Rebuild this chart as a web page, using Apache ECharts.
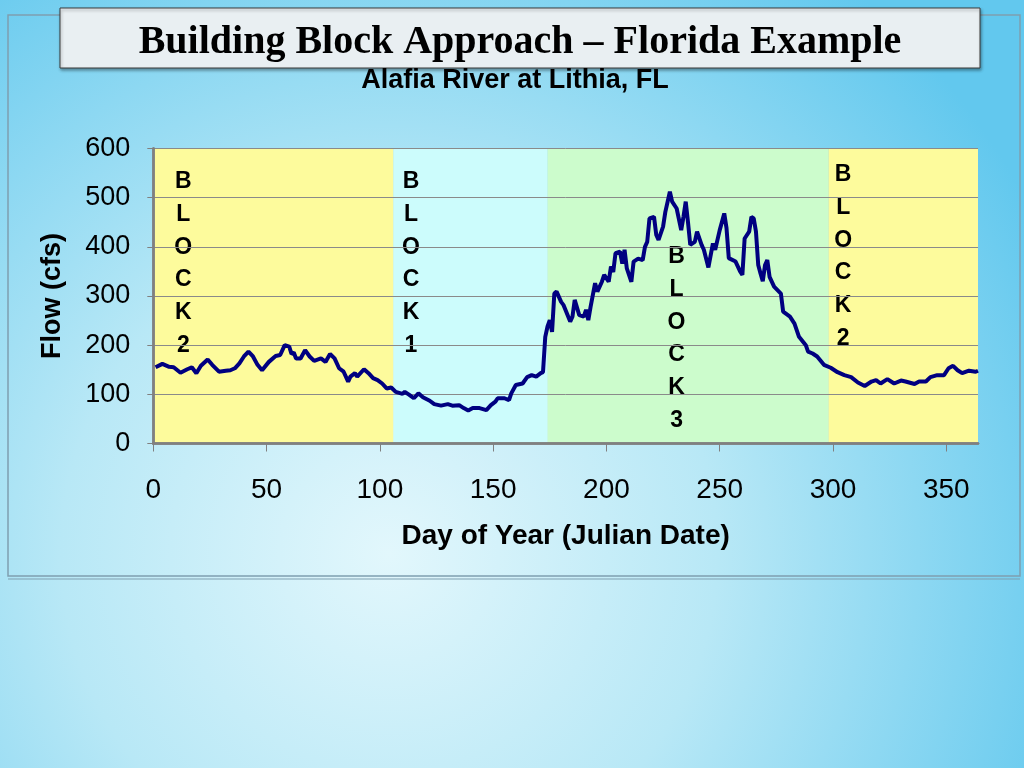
<!DOCTYPE html>
<html>
<head>
<meta charset="utf-8">
<script src="https://cdn.jsdelivr.net/npm/echarts@6/dist/echarts.min.js"></script>
<style>
html,body{margin:0;padding:0;width:1024px;height:768px;overflow:hidden;}
#chart{width:1024px;height:768px;}
</style>
</head>
<body>
<div id="chart"></div>
<script>
// ---- data ----
const dayOfYear = [1,4,7,9,12,15,17,19,21,24,26,29,32,34,36,38,40,42,44,46,48,51,54,56,58,60,61,62,63,65,67,69,71,74,76,78,80,82,84,86,87,89,90,93,95,97,99,101,103,105,107,110,111,113,115,117,119,122,124,127,130,132,135,137,139,141,144,147,149,151,152,155,157,158,160,163,165,167,169,171,172,173,174,175,176,177,178,180,181,184,185,186,188,190,191,192,193,195,196,198,199,201,202,203,204,206,207,208,209,211,212,214,216,217,218,219,221,222,223,225,226,228,229,231,233,234,235,236,237,239,240,242,243,245,247,248,250,252,253,254,257,259,260,261,263,264,265,266,267,268,269,270,271,272,274,277,278,281,283,285,288,289,291,293,296,299,302,305,308,311,314,317,319,321,324,327,330,332,336,338,341,343,346,349,351,353,355,357,360,363,364];
const flowCfs = [155,162,156,155,144,151,155,143,158,171,160,146,148,149,153,163,177,187,177,160,149,166,178,180,200,197,182,185,173,173,190,177,168,173,166,182,173,153,146,126,136,143,136,151,143,133,129,122,112,114,105,101,105,99,92,102,94,87,80,77,80,77,78,72,67,72,72,68,78,85,92,92,88,102,119,122,135,139,136,143,145,217,238,251,227,305,309,288,282,248,258,292,261,258,272,251,278,326,309,329,343,329,360,349,387,390,366,394,356,329,370,376,373,400,410,458,461,424,414,441,471,512,492,478,434,461,492,450,404,410,431,404,394,358,407,394,434,468,438,377,370,350,343,417,431,461,458,431,363,346,330,363,373,339,319,305,268,258,244,217,200,187,183,177,160,154,145,139,135,124,117,126,129,122,131,122,128,126,121,126,126,135,139,139,153,158,149,143,148,146,148];
const blockStart = [0,106,174,298];
const blockEnd = [106,174,298,364];
const blockNames = ['BLOCK2','BLOCK1','BLOCK3','BLOCK2'];
const titleText = 'Building Block Approach – Florida Example';
const subtitleText = 'Alafia River at Lithia, FL';
const xAxisName = 'Day of Year (Julian Date)';
const yAxisName = 'Flow (cfs)';

// ---- styles ----
const blockColors = ['#fdfb9c','#ccfcfc','#ccfccc','#fdfb9c'];
const blockLabelPos = [[30,17],[17.5,17],[129,92],[14.7,10]];
const FONT = '"Liberation Sans", Arial, sans-serif';

const seriesData = dayOfYear.map((d,i)=>[d, flowCfs[i]]);
const areas = blockStart.map((s,i)=>[
  {xAxis:s, itemStyle:{color:blockColors[i], opacity:1},
   label:{show:true, formatter: blockNames[i].split('').join('\n'),
          position: blockLabelPos[i], align:'center', verticalAlign:'top',
          color:'#000', fontFamily:FONT, fontWeight:'bold', fontSize:23, lineHeight:32.7}},
  {xAxis:blockEnd[i]}
]);

const chart = echarts.init(document.getElementById('chart'), null, {renderer:'canvas'});
chart.setOption({
  animation:false,
  backgroundColor:{type:'radial', x:0.38, y:0.72, r:0.95,
    colorStops:[{offset:0,color:'#e2f7fc'},{offset:0.45,color:'#b8e8f6'},{offset:1,color:'#62c8ee'}]},
  graphic:[
    {type:'rect', z:-1, shape:{x:8,y:15,width:1012,height:561}, style:{fill:'none', stroke:'#7f9fb0', lineWidth:1.5}},
    {type:'line', z:-1, shape:{x1:8,y1:579,x2:1020,y2:579}, style:{stroke:'#7f9fb0', lineWidth:1}},
    {type:'rect', shape:{x:60,y:8,width:920,height:60}, style:{fill:'#e9eff2', stroke:'#3a3a3a', lineWidth:1, shadowBlur:3, shadowOffsetX:1, shadowOffsetY:2, shadowColor:'rgba(0,0,0,0.35)'}},
    {type:'text', style:{text:titleText, x:520, y:43, align:'center', verticalAlign:'middle', font:'bold 40px "Liberation Serif", "Times New Roman", serif', fill:'#000'}},
    {type:'text', style:{text:subtitleText, x:515, y:81, align:'center', verticalAlign:'middle', font:'bold 27px "Liberation Sans", Arial, sans-serif', fill:'#000'}}
  ],
  grid:{left:153.3, top:148.5, width:824.7, height:295, containLabel:false},
  xAxis:[{
    type:'value', min:0, max:364, interval:50, z:1.5,
    name:xAxisName, nameLocation:'middle', nameGap:79,
    nameTextStyle:{fontFamily:FONT, fontWeight:'bold', fontSize:28, color:'#000'},
    axisLine:{show:true, lineStyle:{color:'#808080', width:2.5}},
    axisTick:{show:true, inside:false, length:8, lineStyle:{color:'#808080', width:1}},
    axisLabel:{fontFamily:FONT, fontSize:28, color:'#000', margin:33},
    splitLine:{show:false}
  },{
    type:'value', min:0, max:364, position:'top', z:1.5,
    axisLine:{show:true, lineStyle:{color:'#808080', width:2.5}},
    axisTick:{show:false}, axisLabel:{show:false}, splitLine:{show:false}
  }],
  yAxis:[{
    type:'value', min:0, max:600, interval:100, z:1.5,
    name:yAxisName, nameLocation:'middle', nameGap:87, nameRotate:90,
    nameTextStyle:{fontFamily:FONT, fontWeight:'bold', fontSize:27, color:'#000'},
    axisLine:{show:true, lineStyle:{color:'#808080', width:2.5}},
    axisTick:{show:true, length:6, lineStyle:{color:'#808080', width:1}},
    axisLabel:{fontFamily:FONT, fontSize:27, color:'#000', margin:23},
    splitLine:{show:true, lineStyle:{color:'#8a8a8a', width:1}}
  },{
    type:'value', min:0, max:600, position:'right', z:1.5,
    axisLine:{show:true, lineStyle:{color:'#808080', width:2.5}},
    axisTick:{show:false}, axisLabel:{show:false}, splitLine:{show:false}
  }],
  series:[{
    type:'line', data:seriesData, showSymbol:false, symbol:'none', z:3,
    lineStyle:{color:'#000080', width:4},
    markArea:{silent:true, z:1, data:areas}
  }]
});
</script>
</body>
</html>
